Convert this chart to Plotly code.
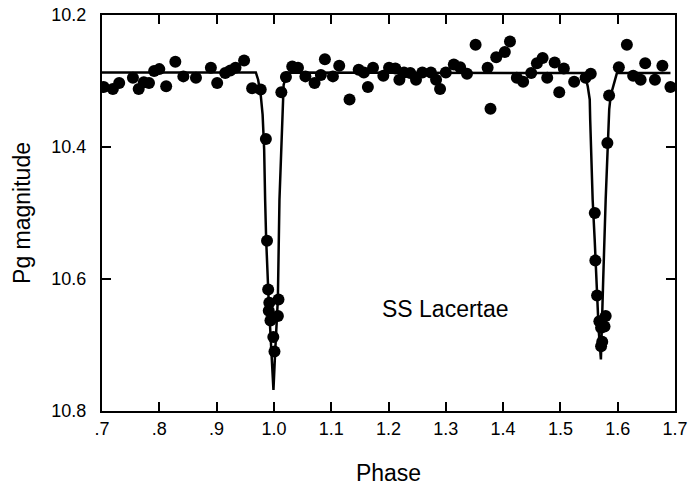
import plotly.graph_objects as go

# Observed data points (phase, Pg magnitude)
obs_phase = [
    0.703, 0.719, 0.730, 0.754, 0.764, 0.773, 0.782, 0.791, 0.800, 0.812,
    0.828, 0.842, 0.864, 0.890, 0.901, 0.915, 0.924, 0.933, 0.948, 0.962,
    0.977, 0.986, 0.988, 0.990, 0.992, 0.991, 0.994, 0.999, 1.001, 1.008,
    1.007, 1.013, 1.021,
    1.032, 1.042, 1.055, 1.071, 1.082, 1.089, 1.103, 1.114, 1.132, 1.148,
    1.157, 1.164, 1.173, 1.191, 1.201, 1.212, 1.219, 1.227, 1.238, 1.248,
    1.259, 1.274, 1.283, 1.290, 1.300, 1.314, 1.325, 1.337, 1.352, 1.373,
    1.378, 1.388, 1.403, 1.412, 1.424, 1.435, 1.449, 1.459, 1.469, 1.477,
    1.490, 1.498, 1.506, 1.524, 1.544, 1.553,
    1.560, 1.561, 1.564, 1.568, 1.571, 1.577, 1.573, 1.571, 1.579, 1.582,
    1.585,
    1.602, 1.616, 1.627, 1.640, 1.648, 1.665, 1.678, 1.692,
]
obs_mag = [
    10.309, 10.312, 10.303, 10.295, 10.312, 10.302, 10.303, 10.285, 10.282, 10.308,
    10.271, 10.293, 10.295, 10.280, 10.303, 10.288, 10.284, 10.280, 10.269, 10.311,
    10.313, 10.388, 10.542, 10.616, 10.636, 10.648, 10.663, 10.688, 10.710, 10.631,
    10.656, 10.317, 10.294,
    10.278, 10.280, 10.293, 10.303, 10.291, 10.267, 10.293, 10.277, 10.328, 10.283,
    10.287, 10.309, 10.280, 10.292, 10.280, 10.281, 10.298, 10.287, 10.288, 10.298,
    10.287, 10.287, 10.298, 10.312, 10.287, 10.275, 10.279, 10.289, 10.245, 10.280,
    10.342, 10.264, 10.256, 10.240, 10.295, 10.301, 10.288, 10.273, 10.265, 10.295,
    10.272, 10.317, 10.281, 10.301, 10.295, 10.289,
    10.500, 10.572, 10.625, 10.664, 10.674, 10.672, 10.695, 10.702, 10.656, 10.394,
    10.322,
    10.279, 10.245, 10.292, 10.298, 10.273, 10.298, 10.277, 10.309,
]

# Model light curve (phase, magnitude)
model_phase = [
    0.700, 0.9685, 0.9725, 0.9772, 0.9803, 0.9830, 0.9847, 0.9865, 0.9908, 0.9964,
    0.9992, 1.0022, 1.0069, 1.0097, 1.0156, 1.0170, 1.0226,
    1.5419, 1.5477, 1.5512, 1.5520, 1.5563, 1.5598, 1.5633, 1.5668, 1.5707,
    1.5724, 1.5747, 1.5790, 1.5825, 1.5852, 1.5878, 1.5986, 1.6921,
]
model_mag = [
    10.287, 10.287, 10.298, 10.323, 10.351, 10.404, 10.480, 10.540, 10.631, 10.711,
    10.768, 10.711, 10.631, 10.480, 10.359, 10.306, 10.287,
    10.288, 10.308, 10.328, 10.359, 10.480, 10.540, 10.616, 10.677, 10.722,
    10.662, 10.601, 10.480, 10.393, 10.343, 10.322, 10.288, 10.288,
]

x_tickvals = [0.7, 0.8, 0.9, 1.0, 1.1, 1.2, 1.3, 1.4, 1.5, 1.6, 1.7]
x_ticktext = [".7", ".8", ".9", "1.0", "1.1", "1.2", "1.3", "1.4", "1.5", "1.6", "1.7"]
y_tickvals = [10.2, 10.4, 10.6, 10.8]
y_ticktext = ["10.2", "10.4", "10.6", "10.8"]

FONT = "Liberation Sans, Arial, Helvetica, sans-serif"
X_RANGE = [0.7, 1.7]
Y_RANGE = [10.8, 10.2]

fig = go.Figure()
fig.add_trace(go.Scatter(
    x=model_phase, y=model_mag, mode="lines",
    line=dict(color="black", width=2.5), hoverinfo="skip", showlegend=False,
))
fig.add_trace(go.Scatter(
    x=obs_phase, y=obs_mag, mode="markers",
    marker=dict(color="black", size=12, line=dict(width=0)), showlegend=False,
))

fig.add_annotation(
    x=1.3, y=10.645, text="SS Lacertae", showarrow=False,
    font=dict(family=FONT, size=23, color="black"), xref="x", yref="y",
)

axis_common = dict(
    showline=True, linecolor="black", linewidth=2,
    ticks="inside", ticklen=9, tickwidth=1.5, tickcolor="black",
    showgrid=False, zeroline=False, automargin=False,
    tickfont=dict(family=FONT, size=18, color="black"),
)

fig.update_layout(
    xaxis=dict(
        range=X_RANGE, tickvals=x_tickvals, ticktext=x_ticktext,
        ticklabelstandoff=0,
        title=dict(text="Phase", font=dict(family=FONT, size=23, color="black"), standoff=27),
        **axis_common,
    ),
    yaxis=dict(
        range=Y_RANGE, tickvals=y_tickvals, ticktext=y_ticktext,
        ticklabelstandoff=10,
        title=dict(text="Pg magnitude", font=dict(family=FONT, size=23, color="black"), standoff=14),
        **axis_common,
    ),
    xaxis2=dict(
        range=X_RANGE, tickvals=x_tickvals, overlaying="x", side="top",
        showticklabels=False, anchor="y", **axis_common,
    ),
    yaxis2=dict(
        range=Y_RANGE, tickvals=y_tickvals, overlaying="y", side="right",
        showticklabels=False, anchor="x", **axis_common,
    ),
)

# invisible helper trace so the overlay axes are drawn
fig.add_trace(go.Scatter(
    x=[model_phase[0]], y=[model_mag[0]], xaxis="x2", yaxis="y2",
    mode="markers", marker=dict(opacity=0), hoverinfo="skip", showlegend=False,
))

fig.update_layout(
    width=689, height=490,
    margin=dict(l=102, r=14, t=15, b=79),
    plot_bgcolor="white", paper_bgcolor="white",
    font=dict(family=FONT, color="black"),
)

fig.write_html(
    "out.html",
    config={"displayModeBar": False},
    post_script="document.body.style.margin='0';document.body.style.overflow='hidden';",
)
